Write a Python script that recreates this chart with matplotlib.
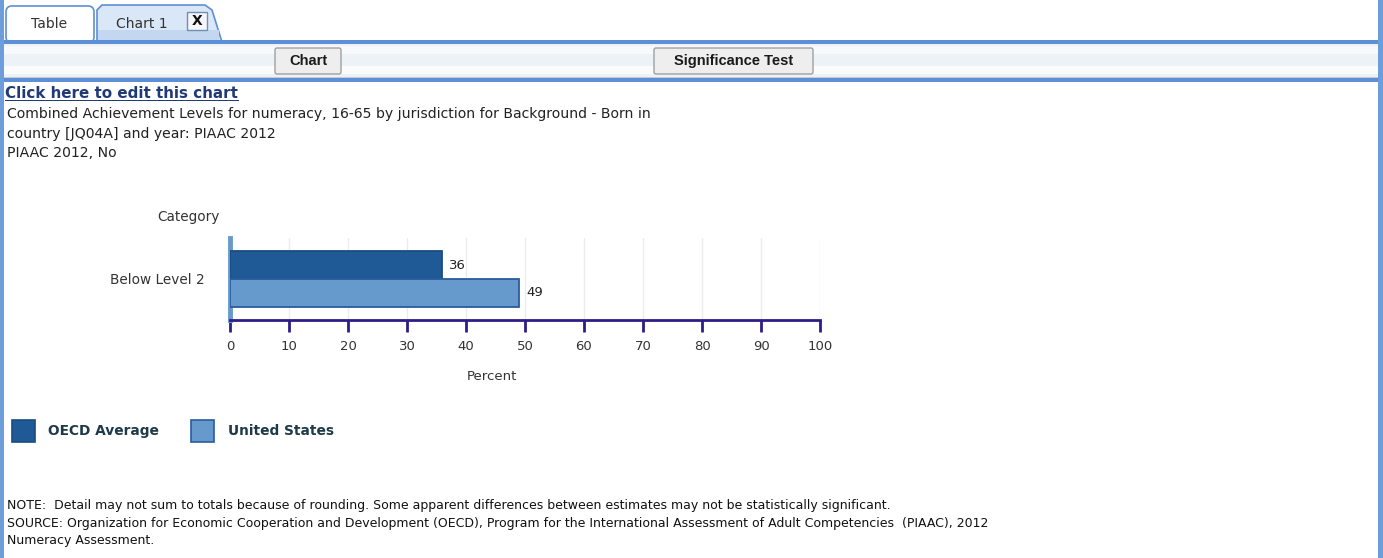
import matplotlib
matplotlib.use("Agg")
import matplotlib.pyplot as plt
from matplotlib.patches import Rectangle, FancyBboxPatch, Polygon

# ---- data ----
categories = ["Below Level 2"]
series_names = ["OECD Average", "United States"]
oecd_values = [36]
us_values = [49]
x_ticks = [0, 10, 20, 30, 40, 50, 60, 70, 80, 90, 100]

W, H = 1383, 558
fig = plt.figure(figsize=(W / 100, H / 100), dpi=100)
fig.patch.set_facecolor("white")

# overlay axes in pixel coordinates for UI decorations & text
ov = fig.add_axes([0, 0, 1, 1], zorder=0)
ov.set_xlim(0, W)
ov.set_ylim(H, 0)
ov.axis("off")

blue = "#5d8fd6"
# left and right borders
ov.add_patch(Rectangle((0, 0), 4, H, color="#6d9edb", lw=0))
ov.add_patch(Rectangle((1378, 0), 5, H, color="#6d9edb", lw=0))
# toolbar
ov.add_patch(Rectangle((4, 44), 1374, 34, color="#edf2f7", lw=0))
ov.add_patch(Rectangle((4, 46), 1374, 8, color="#f7f9fb", lw=0))
ov.add_patch(Rectangle((4, 66), 1374, 8, color="#f9fbfc", lw=0))
ov.add_patch(Rectangle((4, 77), 1374, 1, color="#c8ccd2", lw=0))
ov.add_patch(Rectangle((4, 78), 1374, 4, color=blue, lw=0))

# tabs
ov.add_patch(FancyBboxPatch((6, 6), 88, 37, boxstyle="round,pad=0,rounding_size=6",
                            fc="white", ec=blue, lw=1.2))
tab2 = Polygon([(97, 42), (97, 10), (102, 5), (205, 5), (212, 10), (222, 42)],
               closed=True, fc="#dae7f7", ec=blue, lw=1.2)
ov.add_patch(tab2)
ov.add_patch(Rectangle((98, 30), 121, 11, color="#c3d7f1", lw=0))
ov.add_patch(Rectangle((4, 40), 1374, 4, color=blue, lw=0))
ov.text(49, 24, "Table", ha="center", va="center", fontsize=10, color="#333333")
ov.text(142, 24, "Chart 1", ha="center", va="center", fontsize=10, color="#333333")
ov.add_patch(Rectangle((187, 12), 20, 18, fc="#f4f6f9", ec="#6f8fb8", lw=1))
ov.text(197, 21, "X", ha="center", va="center", fontsize=10, fontweight="bold", color="#111111")

# buttons
for (x0, x1, label) in [(275, 341, "Chart"), (654, 813, "Significance Test")]:
    ov.add_patch(FancyBboxPatch((x0, 48), x1 - x0, 26, boxstyle="round,pad=0,rounding_size=2",
                                fc="#eeeeee", ec="#a0a0a0", lw=1))
    ov.text((x0 + x1) / 2, 61, label, ha="center", va="center", fontsize=10.5,
            fontweight="bold", color="#1a1a1a", family="Liberation Sans")

# header texts
ov.text(5, 93, "Click here to edit this chart", ha="left", va="center", fontsize=10.9,
        fontweight="bold", color="#203a78")
ov.add_patch(Rectangle((5, 100), 234, 1.3, color="#203a78", lw=0))
sub = ("Combined Achievement Levels for numeracy, 16-65 by jurisdiction for Background - Born in\n"
       "country [JQ04A] and year: PIAAC 2012\nPIAAC 2012, No")
ov.text(7, 107, sub, ha="left", va="top", fontsize=10.1, color="#222222", linespacing=1.52)

# category header
ov.text(220, 217, "Category", ha="right", va="center", fontsize=9.8, color="#333333")
ov.text(492, 377, "Percent", ha="center", va="center", fontsize=9.5, color="#333333")

# legend
colors = ["#1f5a96", "#6699cc"]
edges = ["#1a4c82", "#2a5c9c"]
leg_x = [12, 191]
leg_tx = [48, 228]
for name, c, e, lx, tx in zip(series_names, colors, edges, leg_x, leg_tx):
    ov.add_patch(Rectangle((lx, 420), 23, 22, fc=c, ec=e, lw=1.2))
    ov.text(tx, 431, name, ha="left", va="center", fontsize=9.9, fontweight="bold", color="#1e3a4a")

# notes
notes = ("NOTE:  Detail may not sum to totals because of rounding. Some apparent differences between estimates may not be statistically significant.\n"
         "SOURCE: Organization for Economic Cooperation and Development (OECD), Program for the International Assessment of Adult Competencies  (PIAAC), 2012\n"
         "Numeracy Assessment.")
ov.text(7, 499, notes, ha="left", va="top", fontsize=9.0, color="#111111", linespacing=1.45)

# ---- chart axes ----
ax_left, ax_right, ax_top, ax_bottom = 230, 820, 238, 320
ax = fig.add_axes([ax_left / W, (H - ax_bottom) / H, (ax_right - ax_left) / W, (ax_bottom - ax_top) / H],
                  zorder=2)
ax.set_facecolor("none")
ax.set_xlim(0, 100)
ax.set_ylim(0.5, -0.5)

bar_h = 0.345
offsets = [-0.17, 0.17]
for vals, off, c, e in zip([oecd_values, us_values], offsets, colors, edges):
    ys = [i + off for i in range(len(categories))]
    bars = ax.barh(ys, vals, height=bar_h, color=c, edgecolor=e, linewidth=1.3, zorder=3)
    for b, v in zip(bars, vals):
        ax.annotate(str(v), (v, b.get_y() + b.get_height() / 2), xytext=(5, 0),
                    textcoords="offset points", ha="left", va="center", fontsize=9.5, color="#222222")

ax.set_xticks(x_ticks)
ax.set_yticks(range(len(categories)))
ax.set_yticklabels(categories)
ax.grid(axis="x", color="#ececec", lw=1, zorder=0)
ax.set_axisbelow(True)

axis_c = "#2e1d86"
for s in ["top", "right"]:
    ax.spines[s].set_visible(False)
ax.spines["bottom"].set_color(axis_c)
ax.spines["bottom"].set_linewidth(2)
ax.spines["left"].set_color("#6699cc")
ax.spines["left"].set_linewidth(3.5)
ax.tick_params(axis="x", direction="out", length=8.5, width=2, color=axis_c,
               labelsize=9.5, labelcolor="#333333", pad=6)
ax.tick_params(axis="y", length=0, labelsize=9.8, labelcolor="#333333", pad=18)

fig.savefig("out.png", dpi=100)
